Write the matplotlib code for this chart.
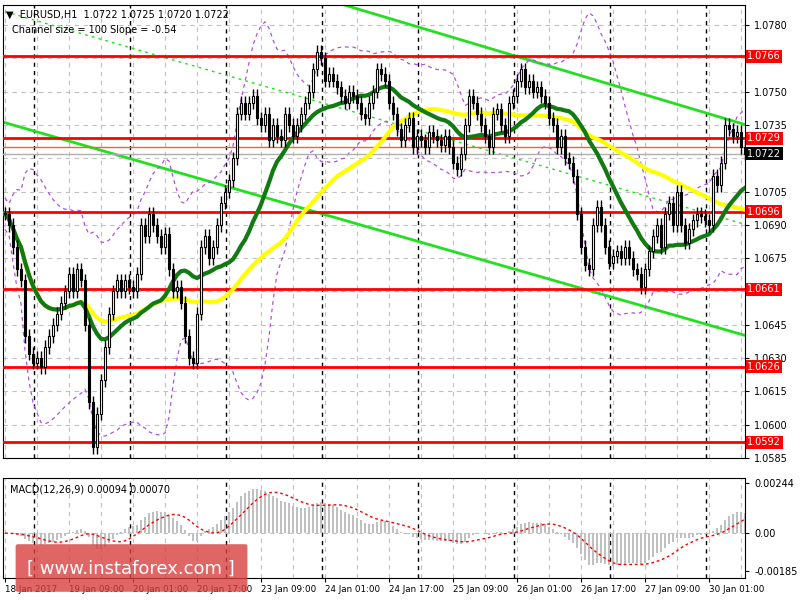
import numpy as np
import pandas as pd
import matplotlib
matplotlib.use("Agg")
import matplotlib.pyplot as plt
from matplotlib.patches import FancyBboxPatch

closes = [
    1.0695, 1.0690, 1.0680, 1.0670, 1.0665,
    1.0640, 1.0632, 1.0628, 1.0630, 1.0626,
    1.0635, 1.0640, 1.0645, 1.0650, 1.0655, 1.0660,
    1.0668, 1.0660, 1.0670, 1.0665, 1.0645, 1.0610, 1.0590, 1.0605,
    1.0620, 1.0635, 1.0650, 1.0660, 1.0665, 1.0660,
    1.0665, 1.0662, 1.0660, 1.0668,
    1.0690, 1.0685, 1.0695, 1.0690, 1.0685, 1.0680, 1.0686,
    1.0670, 1.0660, 1.0662, 1.0655,
    1.0640, 1.0630, 1.0628, 1.0650,
    1.0680, 1.0685, 1.0675, 1.0680, 1.0690,
    1.0700, 1.0705, 1.0710, 1.0720, 1.0740,
    1.0745, 1.0740, 1.0745, 1.0748, 1.0738, 1.0735,
    1.0740, 1.0728, 1.0735, 1.0730, 1.0728, 1.0740, 1.0735, 1.0730,
    1.0735, 1.0740, 1.0745, 1.0750, 1.0760, 1.0768, 1.0765, 1.0755,
    1.0758, 1.0755, 1.0752, 1.0748, 1.0745, 1.0750, 1.0748, 1.0745,
    1.0740, 1.0738, 1.0745, 1.0750, 1.0760, 1.0758, 1.0755, 1.0745, 1.0740, 1.0733, 1.0728, 1.0735, 1.0738,
    1.0725, 1.0730, 1.0728, 1.0725, 1.0732, 1.0730, 1.0728, 1.0726, 1.0730, 1.0725, 1.0718, 1.0715,
    1.0722, 1.0735, 1.0748, 1.0745, 1.0740, 1.0735, 1.0730, 1.0725,
    1.0740, 1.0742, 1.0735, 1.0730, 1.0745,
    1.0748, 1.0755, 1.0760, 1.0752, 1.0755,
    1.0750, 1.0752, 1.0748, 1.0745, 1.0738,
    1.0735, 1.0725, 1.0730, 1.0720, 1.0718,
    1.0712, 1.0695, 1.0680, 1.0672, 1.0670,
    1.0690, 1.0698, 1.0690, 1.0680, 1.0673,
    1.0676, 1.0678, 1.0675, 1.0680, 1.0675,
    1.0670, 1.0668, 1.0662, 1.0670, 1.0678,
    1.0685, 1.0690, 1.0680, 1.0695, 1.0700,
    1.0690, 1.0705, 1.0690, 1.0682, 1.0688,
    1.0692, 1.0695, 1.0694, 1.0692, 1.0690,
    1.0712, 1.0708, 1.0718, 1.0735, 1.0733,
    1.0730, 1.0732, 1.0725, 1.0722,
]
level_prices = [1.0766, 1.0729, 1.0696, 1.0661, 1.0626, 1.0592]
price_ticks = [1.0780, 1.0750, 1.0735, 1.0705, 1.0690, 1.0675,
               1.0645, 1.0630, 1.0615, 1.0600, 1.0585]
grid_prices = [1.0780, 1.0765, 1.0750, 1.0735, 1.0720, 1.0705, 1.0690, 1.0675,
               1.0660, 1.0645, 1.0630, 1.0615, 1.0600, 1.0585]
time_labels = ["18 Jan 2017", "19 Jan 09:00", "20 Jan 01:00", "20 Jan 17:00", "23 Jan 09:00",
               "24 Jan 01:00", "24 Jan 17:00", "25 Jan 09:00", "26 Jan 01:00", "26 Jan 17:00",
               "27 Jan 09:00", "30 Jan 01:00"]
upper_chan = [(83, 1.0790), (189, 1.0733)]
lower_chan = [(0, 1.0736), (197, 1.0634)]
mid_chan = [(0, 1.0786), (197, 1.0684)]

c = pd.Series(closes)
o = c.shift(1).fillna(c.iloc[0])
hi = np.maximum(o, c) + 0.0003
lo = np.minimum(o, c) - 0.0003
n = len(c)
x = np.arange(n)
green_ma = c.rolling(20, min_periods=1).mean()
yellow_ma = c.rolling(50, min_periods=1).mean()
bb_mid = c.rolling(20, min_periods=1).mean()
bb_sd = c.rolling(20, min_periods=2).std().bfill()
macd = c.ewm(span=12).mean() - c.ewm(span=26).mean()
signal = macd.rolling(9, min_periods=1).mean()

fig = plt.figure(figsize=(8, 6), dpi=100)
ax = fig.add_axes([3 / 800, 1 - 458 / 600, 742 / 800, 453 / 600])
mx = fig.add_axes([3 / 800, 1 - 578 / 600, 742 / 800, 100 / 600])
xmin, xmax = -0.5, 185
for a in (ax, mx):
    a.set_xlim(xmin, xmax)
    for d in np.arange(7.25, xmax, 24):
        a.axvline(d, color="black", ls=(0, (3, 3)), lw=1)
    for g in np.arange(0, xmax, 8):
        a.axvline(g, color="#c0c0c0", ls=(0, (4, 4)), lw=0.8, zorder=0)
    a.yaxis.tick_right()
    a.tick_params(axis="y", labelsize=7, length=3)

ax.set_ylim(1.0587, 1.0789)
ax.set_yticks(price_ticks)
ax.set_yticklabels([f"{t:.4f}" for t in price_ticks])
for t in grid_prices:
    ax.axhline(t, color="#c0c0c0", ls=(0, (4, 4)), lw=0.8, zorder=0)
ax.set_xticks([])

# channel
for seg, ls in ((upper_chan, "-"), (lower_chan, "-"), (mid_chan, (0, (2, 3)))):
    ax.plot([seg[0][0], seg[1][0]], [seg[0][1], seg[1][1]], color="#22e01e",
            lw=2 if ls == "-" else 1, ls=ls, zorder=2)

ax.plot(x, bb_mid + 2 * bb_sd, color="#b050e0", ls=(0, (3, 3)), lw=0.9, zorder=2)
ax.plot(x, bb_mid - 2 * bb_sd, color="#b050e0", ls=(0, (3, 3)), lw=0.9, zorder=2)

for lp in level_prices:
    ax.axhline(lp, color="#ff0000", lw=2, zorder=3)
ax.axhline(1.0725, color="#ff6020", lw=1, zorder=3)
ax.axhline(1.0722, color="#b0b0b0", lw=1, zorder=3)

ax.plot(x, yellow_ma, color="#ffff00", lw=3, zorder=4)
ax.plot(x, green_ma, color="#127a12", lw=3, zorder=4)

for i in range(n):
    ax.vlines(i, lo[i], hi[i], color="black", lw=1, zorder=5)
    up = c[i] >= o[i]
    ax.bar(i, abs(c[i] - o[i]) or 0.00003, bottom=min(o[i], c[i]), width=0.7,
           color="white" if up else "black", edgecolor="black", lw=0.8, zorder=6)

for lp in level_prices:
    ax.text(1.003, lp, f"{lp:.4f}", transform=ax.get_yaxis_transform(), fontsize=7,
            color="white", va="center", ha="left",
            bbox=dict(boxstyle="square,pad=0.15", fc="#ff0000", ec="none"), clip_on=False)
ax.text(1.003, 1.0722, "1.0722", transform=ax.get_yaxis_transform(), fontsize=7,
        color="white", va="center", ha="left",
        bbox=dict(boxstyle="square,pad=0.15", fc="black", ec="none"), clip_on=False)

ax.text(0.004, 0.99, "\u25bc  EURUSD,H1  1.0722 1.0725 1.0720 1.0722", transform=ax.transAxes,
        fontsize=7, va="top")
ax.text(0.012, 0.955, "Channel size = 100 Slope = -0.54", transform=ax.transAxes,
        fontsize=7, va="top")

# MACD
mx.bar(x, macd, width=0.7, color="#c0c0c0", zorder=2)
mx.plot(x, signal, color="red", ls=(0, (2, 2)), lw=1, zorder=3)
mx.axhline(0, color="#c0c0c0", ls=(0, (4, 4)), lw=0.8)
mx.set_ylim(-0.0022, 0.0027)
mx.set_yticks([0.00244, 0.0, -0.00185])
mx.set_yticklabels(["0.00244", "0.00", "-0.00185"])
mx.set_xticks(np.arange(0, 16 * len(time_labels), 16))
mx.set_xticklabels(time_labels, fontsize=6.3, ha="left")
mx.tick_params(axis="x", length=3, pad=2)
mx.text(0.01, 0.93, "MACD(12,26,9) 0.00094 0.00070", transform=mx.transAxes, fontsize=7, va="top")

fig.patches.append(FancyBboxPatch((18 / 800, 1 - 590 / 600), 227 / 800, 44 / 600,
                                  boxstyle="round,pad=0.003", fc="#d94040", ec="none",
                                  alpha=0.8, transform=fig.transFigure, zorder=10))
fig.text(131 / 800, 1 - 569 / 600, "[ www.instaforex.com ]", color="white", fontsize=13,
         ha="center", va="center", zorder=11)

fig.savefig("out.png", dpi=100)
